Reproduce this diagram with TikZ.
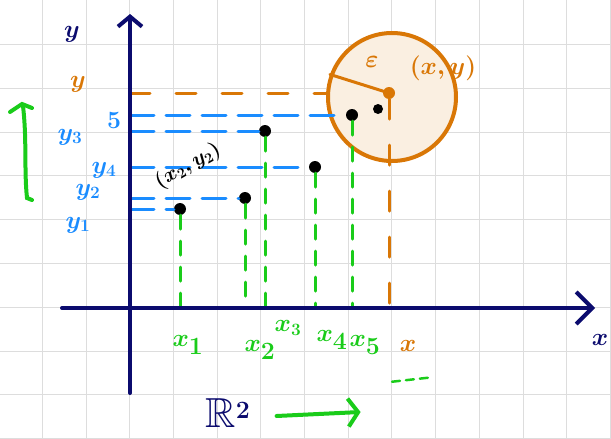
\documentclass[tikz,border=0pt]{standalone}
\usepackage{amssymb}
\usepackage{tikz}
\usetikzlibrary{arrows.meta,positioning,calc}
\definecolor{inknavy}{HTML}{0B0B6E}
\definecolor{inkblue}{HTML}{1A8CFF}
\definecolor{inkgreen}{HTML}{1ACC1A}
\definecolor{inkorange}{HTML}{D97706}
\definecolor{gridgray}{HTML}{DDDDDD}

\begin{document}
\begin{tikzpicture}[x=1pt,y=-1pt,line cap=round,
		axis/.style={draw=inknavy,line width=4pt},
		pt/.style={circle,fill=black,inner sep=0pt,minimum size=12pt},
		bguide/.style={draw=inkblue,line width=3pt,dash pattern=on 24pt off 12pt},
		gguide/.style={draw=inkgreen,line width=3pt,dash pattern=on 14pt off 12pt},
		oguide/.style={draw=inkorange,line width=3pt,dash pattern=on 20pt off 26pt},
		lbl/.style={font=\fontsize{34}{36}\selectfont\boldmath,inner sep=0pt},
		sml/.style={font=\fontsize{27}{29}\selectfont\boldmath,inner sep=0pt}
		]
		% paper with grid
		\useasboundingbox (0,0) rectangle (611,439);
		\fill[white] (0,0) rectangle (611,439);
		\foreach \gx in {42.2,85.9,...,611} \draw[gridgray,line width=0.8pt] (\gx,0) -- (\gx,439);
		\foreach \gy in {44.3,88.1,...,439} \draw[gridgray,line width=0.8pt] (0,\gy) -- (611,\gy);

		% axes
		\coordinate (O) at (130,308);
		\coordinate (ytop) at (130,14);
		\coordinate (ybot) at (130,393);
		\coordinate (xleft) at (62,308);
		\coordinate (xright) at (595,308);

		% neighbourhood of the query point
		\node[circle,draw=inkorange,fill=inkorange!12,line width=4pt,minimum size=128pt] (nb) at (392,97) {};
		\node[circle,fill=inkorange,inner sep=0pt,minimum size=12pt] (c) at (389,93) {};
		\draw[inkorange,line width=3pt] (nb.160) -- (c);
		\node[lbl,text=inkorange] (eps) at (372,62) {$\varepsilon$};
		\node[lbl,text=inkorange] (qlbl) at (443,68) {$(x,y)$};
		\draw[oguide] (O |- c) -- (nb.west |- c);
		\draw[oguide] (c) -- (O -| c);

		% samples
		\node[pt] (p1) at (180,209) {};
		\node[pt] (p2) at (245,198) {};
		\node[pt] (p3) at (265,131) {};
		\node[pt] (p4) at (315,167) {};
		\node[pt] (p5) at (352,115) {};
		\node[pt,minimum size=10pt] (p6) at (378,109) {};

		% projections
		\foreach \p in {p1,p2,p3,p4,p5} {
			\draw[bguide] (O |- \p) -- (\p);
			\draw[gguide] (\p) -- (O -| \p);
		}

		\draw[axis,-{Straight Barb[length=10pt,width=24pt]}] (ybot) -- (ytop);
		\draw[axis,-{Straight Barb[length=16pt,width=32pt]}] (xleft) -- (xright);
		\node[lbl,text=inknavy] (ylab) at (72,34) {$y$};
		\node[lbl,text=inknavy] (xlab) at (600,340) {$x$};

		% labels on y axis
		\node[lbl,text=inkorange] (yq) at (78,84) {$y$};
		\node[sml,text=inkblue] (y5) at (114,120) {$5$};
		\node[sml,text=inkblue] (y3) at (70,137) {$y_3$};
		\node[sml,text=inkblue] (y4) at (104,170) {$y_4$};
		\node[sml,text=inkblue] (y2) at (88,192) {$y_2$};
		\node[sml,text=inkblue] (y1) at (78,225) {$y_1$};
		\node[font=\fontsize{22}{24}\selectfont\boldmath,inner sep=0pt,rotate=30] (pair) at (188,166) {$(x_2,y_2)$};

		% labels on x axis
		\node[lbl,text=inkgreen] (x1) at (188,345) {$x_1$};
		\node[lbl,text=inkgreen] (x2) at (260,350) {$x_2$};
		\node[sml,text=inkgreen] (x3) at (288,328) {$x_3$};
		\node[lbl,text=inkgreen] (x4) at (332,340) {$x_4$};
		\node[lbl,text=inkgreen] (x5) at (365,345) {$x_5$};
		\node[lbl,text=inkorange] (xq) at (408,346) {$x$};
		\draw[inkgreen,line width=2.5pt,dash pattern=on 8pt off 6pt] ([xshift=-16pt,yshift=-30pt]xq.south) -- ([xshift=20pt,yshift=-26pt]xq.south);

		% bracket on the left
		\draw[inkgreen,line width=4pt] (10,112) -- (22,104) -- (32,108);
		\draw[inkgreen,line width=4pt] (23,106) .. controls (27,140) and (24,170) .. (27,198) -- (32,200);

		% space and direction
		\node[font=\fontsize{42}{44}\selectfont\boldmath,text=inknavy,inner sep=0pt] (R2) at (228,413) {$\mathbb{R}^2$};
		\coordinate[right=26pt of R2] (arrS);
		\coordinate[right=110pt of R2] (arrE);
		\draw[inkgreen,line width=4pt,-{Straight Barb[length=10pt,width=28pt]}] ([yshift=-3pt]arrS) -- ([yshift=1pt]arrE);
	\end{tikzpicture}
\end{document}
